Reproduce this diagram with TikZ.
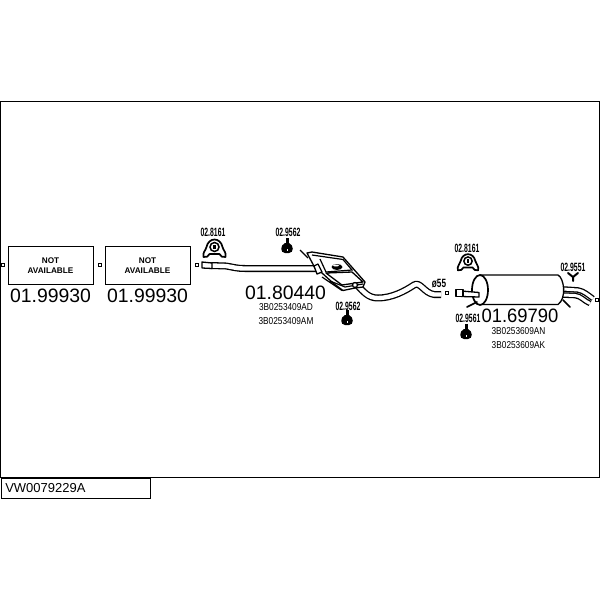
\documentclass[tikz,border=0pt]{standalone}
\usepackage{fontspec}
\setmainfont{Liberation Sans}
\tikzset{
	partno/.style={font=\fontsize{19.4}{20}\selectfont, inner sep=0pt},
	oemno/.style={font=\fontsize{10}{11}\selectfont, inner sep=0pt, xscale=0.83},
	smallno/.style={font=\bfseries\fontsize{12}{13}\selectfont, inner sep=0pt, xscale=0.57},
	notbox/.style={draw=black, line width=1pt, minimum width=85pt, minimum height=37.5pt, inner sep=0pt,
		align=center, font=\bfseries\fontsize{8.2}{10}\selectfont},
	endmark/.style={draw=black, line width=0.9pt, minimum width=3pt, minimum height=3pt, inner sep=0pt},
	pipe/.style={draw=black, double=white, double distance=4.4pt, line width=1.3pt, line join=round},
	shell/.style={draw=black, fill=white, line width=1.3pt, line join=round},
	heavy/.style={draw=black, line width=1.7pt, line cap=round}
}
\newcommand{\clampshape}[3]{
	\begin{scope}[shift={(#1,#2)}, scale=#3]
		\draw[shell, line width=1.7pt] (-11,9) .. controls (-12,4) and (-9,3) .. (-8,-1)
			.. controls (-6,-11) and (6,-11) .. (8,-1)
			.. controls (9,3) and (12,4) .. (11,9)
			.. controls (8,10) and (6,8) .. (5,6) -- (-5,6)
			.. controls (-6,8) and (-8,10) .. (-11,9) -- cycle;
		\draw[black, line width=1.5pt] (0,-1) circle (4.5pt);
		\fill[black] (-1.5,-3) rectangle (1.5,1);
	\end{scope}
}
\newcommand{\hangershape}[2]{
	\fill[black] (#1-1.5,#2-8) rectangle (#1+1.5,#2-2);
	\fill[black] (#1-2,#2-3) .. controls (#1-7,#2-1) and (#1-7,#2+7) .. (#1-2,#2+7)
		-- (#1+2,#2+7) .. controls (#1+7,#2+7) and (#1+7,#2-1) .. (#1+2,#2-3) -- cycle;
	\fill[white] (#1-0.5,#2+3) rectangle (#1+0.5,#2+5);
}
\begin{document}
\begin{tikzpicture}[x=1pt, y=-1pt]
	\useasboundingbox (0,0) rectangle (600,600);
	\fill[white] (0,0) rectangle (600,600);
	\draw[black, line width=1pt] (0.5,101.5) rectangle (599.5,477.5);
	\node[draw=black, line width=1pt, minimum width=149.5pt, minimum height=20pt, inner sep=0pt, anchor=north west,
		text width=145pt, align=left, font=\fontsize{13}{14}\selectfont] (title) at(0.5,477.5){\hspace{2pt}VW0079229A};
	% front parts
	\node[notbox] (box1) at(50.5,265.5){NOT\\AVAILABLE};
	\node[notbox] (box2) at(147.5,265.5){NOT\\AVAILABLE};
	\node[partno] (no1) at(50.5,296){01.99930};
	\node[partno] (no2) at(147.5,296){01.99930};
	\node[endmark] (mark1) at(3,265){};
	\node[endmark] (mark2) at(100,265){};
	\node[endmark] (mark3) at(197,265){};
	% middle pipe
	\draw[pipe] (211,265.5) -- (226,266) .. controls (233,267) and (236,268.5) .. (245,268.5) -- (318,268.5);
	\draw[shell] (202,262) -- (212,263) -- (212,268.5) -- (202,268) -- cycle;
	\draw[pipe] (357,285) .. controls (364,292) and (368,298) .. (378,298)
		.. controls (392,298) and (405,291) .. (414,285) .. controls (420,281) and (424,293) .. (434,294.5) -- (441,294.5);
	\node[endmark] (mark4) at(447,293){};
	% middle silencer
	\draw[black, line width=1.3pt] (300,250) -- (308,258);
	\draw[shell] (307,253) -- (312,252) -- (343,257) -- (365,282) -- (363,287) -- (355,288) -- (343,290.5)
		-- (333,283) -- (322,273) -- (315,268) -- cycle;
	\draw[black, line width=1.2pt] (312,255) -- (343,259.5) (320,259) -- (326,272) -- (352,270) -- (343,259.5);
	\draw[shell] (326,273) -- (352,272) -- (363,282) -- (342,285) -- cycle;
	\draw[black, line width=1.2pt] (322,277) -- (342,290.5) (330,281) -- (345,287) -- (363,284);
	\fill[black] (337,267) ellipse (5.5pt and 3pt);
	\fill[white] (336,265.5) ellipse (3pt and 1pt);
	\draw[shell] (314,266) -- (318,264) -- (322,272) -- (317,274) -- cycle;
	\draw[shell] (355,285) circle (2.5pt);
	% rear silencer
	\draw[pipe, double distance=3pt] (563,289) -- (578,290) .. controls (584,291) and (588,295) .. (593,298.5);
	\draw[pipe, double distance=3pt] (563,295) -- (575,295.5) .. controls (581,296) and (584,301) .. (590,303.5);
	\draw[shell] (480,275) -- (558,275) .. controls (564,278) and (567,298) .. (558,304.5) -- (480,304.5) -- cycle;
	\draw[shell, line width=1.7pt] (480,290) ellipse (8pt and 15pt);
	\draw[heavy] (467,307) -- (477,302);
	\draw[heavy] (563,300) -- (570,307);
	\draw[shell] (461,291) -- (479,292.5) -- (479,297) -- (461,296.5) -- cycle;
	\draw[shell] (456,289.5) rectangle (463,296.5);
	\node[endmark] (mark5) at(447,293){};
	\node[endmark] (mark6) at(597,300){};
	% clamps and hangers
	\clampshape{214.5}{248}{1}
	\hangershape{287}{246}
	\hangershape{347}{318}
	\clampshape{468}{262}{0.92}
	\hangershape{466}{332}
	\draw[heavy, line width=2pt] (568,273) -- (573,277) -- (578,273) (573,277) -- (573,281);
	% labels
	\node[smallno] (lab1) at(213,232){02.8161};
	\node[smallno] (lab2) at(288,232){02.9562};
	\node[smallno] (lab3) at(348,306){02.9562};
	\node[smallno] (lab4) at(467,248){02.8161};
	\node[smallno] (lab5) at(468,318){02.9561};
	\node[smallno] (lab6) at(573,267){02.9551};
	\node[smallno, xscale=1.2] (lab7) at(439,284){ø55};
	\node[partno] (no3) at(285.5,293){01.80440};
	\node[oemno] (oem1) at(286,307){3B0253409AD};
	\node[oemno] (oem2) at(286,321){3B0253409AM};
	\node[partno, xscale=0.95] (no4) at(520,316){01.69790};
	\node[oemno] (oem3) at(518.5,331){3B0253609AN};
	\node[oemno] (oem4) at(518.5,345){3B0253609AK};
\end{tikzpicture}
\end{document}
